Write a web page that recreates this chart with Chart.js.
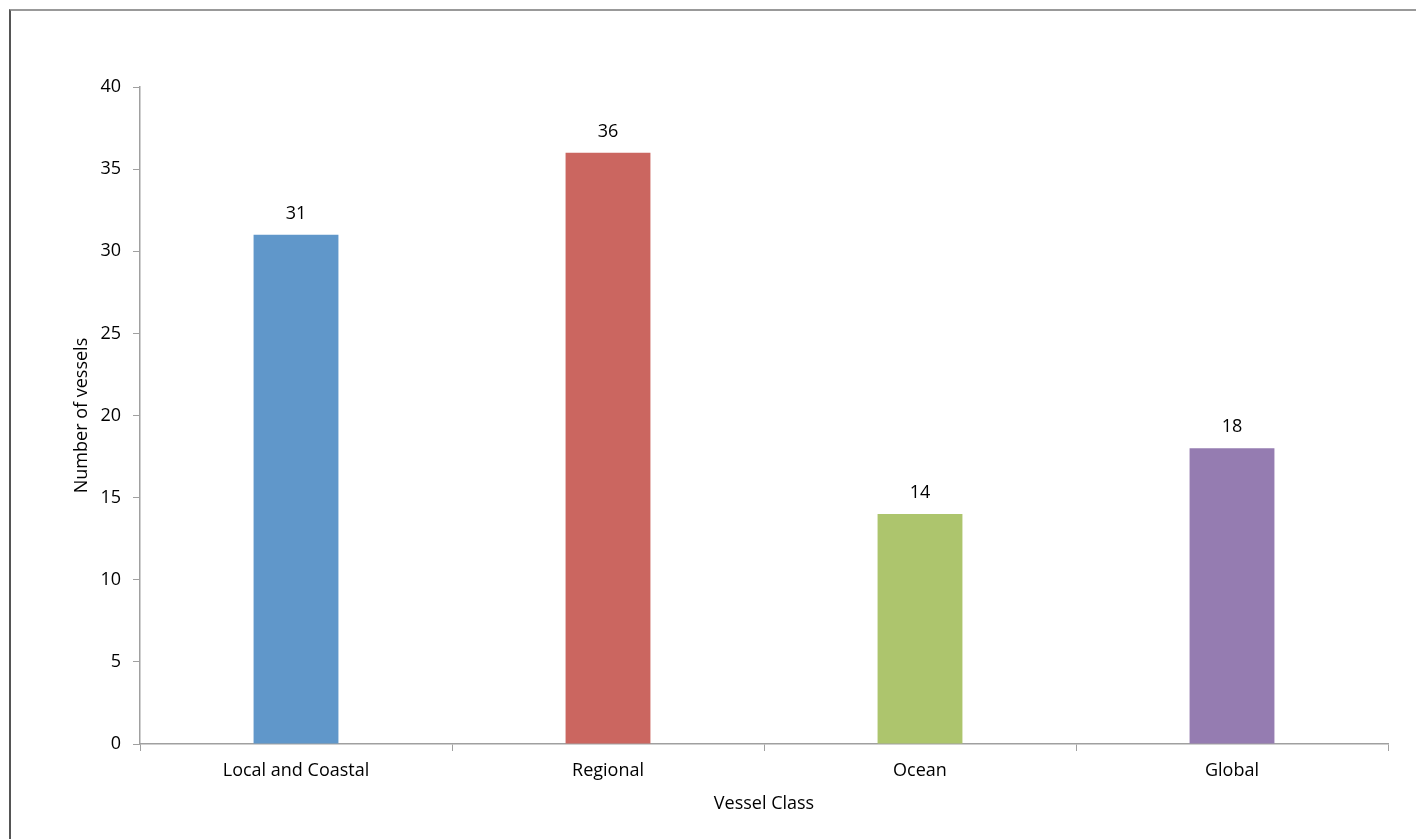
<!DOCTYPE html>
<html>
<head>
<meta charset="utf-8">
<script src="https://cdn.jsdelivr.net/npm/chart.js@4"></script>
<style>
  html, body { margin: 0; padding: 0; background: #fff; overflow: hidden; }
  #wrap { position: relative; width: 1416px; height: 839px; }
  #frame { position: absolute; left: 9px; top: 9px; width: 1500px; height: 900px;
           border-left: 2px solid #555; border-top: 2px solid #999; pointer-events: none; }
  canvas { position: absolute; left: 0; top: 0; }
</style>
</head>
<body>
<div id="wrap">
  <canvas id="chart" width="1416" height="839"></canvas>
  <div id="frame"></div>
</div>
<script>
// data
const categories = ["Local and Coastal", "Regional", "Ocean", "Global"];
const vessels = [31, 36, 14, 18];
const barColors = ["#6097CA", "#CB6660", "#ADC56D", "#957CB1"];
const yTicks = [0, 5, 10, 15, 20, 25, 30, 35, 40];

const FONT = "'Open Sans', 'Liberation Sans', sans-serif";

// value labels above each bar
const valueLabels = {
  id: "valueLabels",
  afterDatasetsDraw(chart) {
    const ctx = chart.ctx;
    const meta = chart.getDatasetMeta(0);
    ctx.save();
    ctx.font = "18px " + FONT;
    ctx.fillStyle = "#000";
    ctx.textAlign = "center";
    ctx.textBaseline = "bottom";
    meta.data.forEach((bar, i) => {
      ctx.fillText(vessels[i], bar.x, bar.y - 12);
    });
    ctx.restore();
  }
};

new Chart(document.getElementById("chart"), {
  type: "bar",
  data: {
    labels: categories,
    datasets: [{
      data: vessels,
      backgroundColor: barColors,
      barPercentage: 0.272,
      categoryPercentage: 1
    }]
  },
  options: {
    responsive: false,
    animation: false,
    layout: { padding: { top: 87, right: 28, left: 0, bottom: 0 } },
    plugins: { legend: { display: false }, tooltip: { enabled: false } },
    scales: {
      x: {
        grid: { drawOnChartArea: false, color: "#A0A0A0", tickLength: 7, offset: true },
        border: { color: "#A0A0A0", width: 1.5 },
        ticks: { color: "#000", font: { family: FONT, size: 18 }, padding: 9 },
        title: { display: true, text: "Vessel Class", color: "#000",
                 font: { family: FONT, size: 18 }, padding: { bottom: 24, top: 0 } },
        afterFit(scale) { scale.height = 95; }
      },
      y: {
        min: 0, max: 40,
        afterBuildTicks(scale) { scale.ticks = yTicks.map(v => ({ value: v })); },
        grid: { drawOnChartArea: false, color: "#A0A0A0", tickLength: 7 },
        border: { color: "#A0A0A0", width: 1.5 },
        ticks: { color: "#000", font: { family: FONT, size: 18 }, padding: 12 },
        title: { display: true, text: "Number of vessels", color: "#000",
                 font: { family: FONT, size: 18 }, padding: { top: 71, bottom: 0 } },
        afterFit(scale) { scale.width = 140; }
      }
    }
  },
  plugins: [valueLabels]
});
</script>
</body>
</html>
